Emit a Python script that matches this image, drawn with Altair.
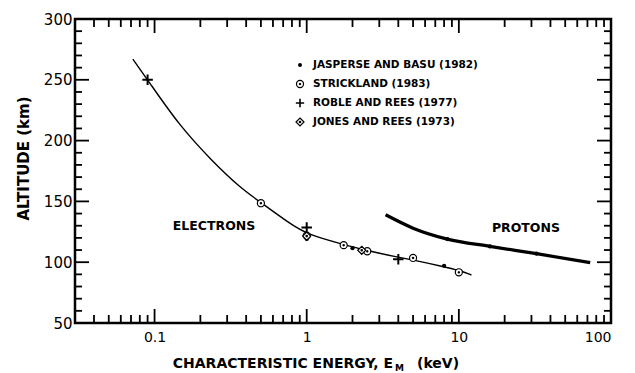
import altair as alt
import pandas as pd

# Peak-deposition altitude versus characteristic energy
electron_energy = [0.072, 0.09, 0.146, 0.24, 0.36, 0.5, 0.77, 1.0, 1.75, 2.5, 4.0, 5.0, 8.0, 10.0, 12.1]
electron_altitude = [267, 250, 212, 183, 162, 149, 132, 123, 114.5, 109.5, 104, 101.8, 96.3, 93.3, 89.5]

proton_energy = [3.3, 5.0, 8.4, 16, 32.4, 73]
proton_altitude = [139, 128, 119, 113, 107, 99.6]

# Published model results
jasperse_energy = [1.0, 2.0, 8.0, 8.4, 16, 32.4]
jasperse_altitude = [119, 111.5, 97, 119, 113, 107]

strickland_energy = [0.5, 1.0, 1.75, 2.5, 5.0, 10.0]
strickland_altitude = [148.5, 121.8, 114, 109, 103.5, 91.7]

roble_energy = [0.09, 1.0, 4.0]
roble_altitude = [250, 128.5, 102.4]

jones_energy = [1.0, 2.3]
jones_altitude = [121.5, 109.8]

# Axis ticks and labels
x_minor = [0.04, 0.05, 0.06, 0.07, 0.08, 0.09,
           0.2, 0.3, 0.4, 0.5, 0.6, 0.7, 0.8, 0.9,
           2, 3, 4, 5, 6, 7, 8, 9,
           20, 30, 40, 50, 60, 70, 80, 90]
x_major = [0.1, 1, 10]
x_labels = [0.1, 1, 10, 100]
y_minor = [60, 70, 80, 90, 110, 120, 130, 140, 160, 170, 180, 190,
           210, 220, 230, 240, 260, 270, 280, 290]
y_major = [100, 150, 200, 250]
y_labels = [50, 100, 150, 200, 250, 300]

legend_labels = ["JASPERSE AND BASU (1982)", "STRICKLAND (1983)",
                 "ROBLE AND REES (1977)", "JONES AND REES (1973)"]

W, H = 536, 304
FONT = "DejaVu Sans"

CIRCLE_DOT = ("M -1 0 A 1 1 0 1 1 1 0 A 1 1 0 1 1 -1 0 Z "
              "M -0.18 0 A 0.18 0.18 0 1 1 0.18 0 A 0.18 0.18 0 1 1 -0.18 0 Z")
DIAMOND_DOT = ("M 0 -1 L 1 0 L 0 1 L -1 0 Z "
               "M -0.18 0 A 0.18 0.18 0 1 1 0.18 0 A 0.18 0.18 0 1 1 -0.18 0 Z")
PLUS = "M -1 0 L 1 0 M 0 -1 L 0 1"

xs = alt.Scale(type="log", domain=[0.03, 100], nice=False)
ys = alt.Scale(domain=[50, 300], nice=False, zero=False)


def frame(e, a):
    return pd.DataFrame({"energy": e, "altitude": a})


X = alt.X("energy:Q", scale=xs)
Y = alt.Y("altitude:Q", scale=ys)

electron_line = alt.Chart(frame(electron_energy, electron_altitude)).mark_line(
    color="black", strokeWidth=1.4, interpolate="basis"
).encode(
    x=alt.X("energy:Q", scale=xs,
            axis=alt.Axis(values=x_labels, format="~g", title=None, grid=False,
                          domain=False, ticks=False, tickSize=0, labelPadding=7,
                          labelFont=FONT, labelFontSize=14, labelColor="black")),
    y=alt.Y("altitude:Q", scale=ys,
            axis=alt.Axis(values=y_labels, title="ALTITUDE (km)", grid=False,
                          domain=False, ticks=False, tickSize=0, labelPadding=3,
                          labelFont=FONT, labelFontSize=15, labelColor="black",
                          titleFont=FONT, titleFontSize=15, titleFontWeight="bold",
                          titleColor="black", titleX=-52, titleY=139,
                          titleBaseline="middle", titleAlign="center", titleAngle=270)),
)

proton_line = alt.Chart(frame(proton_energy, proton_altitude)).mark_line(
    color="black", strokeWidth=3.2, interpolate="monotone"
).encode(x=X, y=Y)

jasperse = alt.Chart(frame(jasperse_energy, jasperse_altitude)).mark_point(
    shape="circle", filled=True, color="black", size=18, opacity=1
).encode(x=X, y=Y)

strickland = alt.Chart(frame(strickland_energy, strickland_altitude)).mark_point(
    shape=CIRCLE_DOT, filled=False, fill="white", fillOpacity=1, stroke="black",
    strokeWidth=1.2, size=50, opacity=1
).encode(x=X, y=Y)

jones = alt.Chart(frame(jones_energy, jones_altitude)).mark_point(
    shape=DIAMOND_DOT, filled=False, fill="white", fillOpacity=1, stroke="black",
    strokeWidth=1.2, size=64, opacity=1
).encode(x=X, y=Y)

roble = alt.Chart(frame(roble_energy, roble_altitude)).mark_point(
    shape=PLUS, filled=False, stroke="black", strokeWidth=2, size=110, opacity=1
).encode(x=X, y=Y)


def xticks(vals, length):
    d = pd.DataFrame({"energy": vals})
    bottom = alt.Chart(d).mark_rule(color="black", strokeWidth=1.8).encode(
        x=X, y=alt.value(H), y2=alt.value(H - length))
    top = alt.Chart(d).mark_rule(color="black", strokeWidth=1.8).encode(
        x=X, y=alt.value(0), y2=alt.value(length))
    return [bottom, top]


def yticks(vals, length):
    d = pd.DataFrame({"altitude": vals})
    left = alt.Chart(d).mark_rule(color="black", strokeWidth=1.8).encode(
        y=Y, x=alt.value(0), x2=alt.value(length))
    right = alt.Chart(d).mark_rule(color="black", strokeWidth=1.8).encode(
        y=Y, x=alt.value(W), x2=alt.value(W - length))
    return [left, right]


tick_layers = xticks(x_minor, 8) + xticks(x_major, 14) + yticks(y_minor, 7) + yticks(y_major, 14)

# Legend block
legend_shapes = ["circle", CIRCLE_DOT, PLUS, DIAMOND_DOT]
legend_sizes = [16, 50, 70, 64]
legend_layers = []
for i, (lab, shp, sz) in enumerate(zip(legend_labels, legend_shapes, legend_sizes)):
    row_y = 46 + 19 * i
    d = pd.DataFrame({"t": [lab]})
    if i == 0:
        sym = alt.Chart(d).mark_point(shape=shp, filled=True, color="black", size=sz, opacity=1)
    else:
        sym = alt.Chart(d).mark_point(shape=shp, filled=False, fill="white", fillOpacity=1,
                                      stroke="black", strokeWidth=1.6 if i == 2 else 1.2,
                                      size=sz, opacity=1)
    legend_layers.append(sym.encode(x=alt.value(225), y=alt.value(row_y)))
    legend_layers.append(
        alt.Chart(d).mark_text(align="left", baseline="middle", font=FONT, fontSize=10.5,
                               fontWeight="bold", color="black").encode(
            x=alt.value(238), y=alt.value(row_y), text="t:N"))

# Curve annotations placed in data coordinates
annot = pd.DataFrame({"energy": [0.246, 27.6], "altitude": [130, 128],
                      "t": ["ELECTRONS", "PROTONS"]})
annot_layer = alt.Chart(annot).mark_text(font=FONT, fontSize=12.5, fontWeight="bold",
                                         color="black", baseline="middle").encode(
    x=X, y=Y, text="t:N")

# Horizontal axis title with subscript
title_main = alt.Chart(pd.DataFrame({"t": ["CHARACTERISTIC ENERGY, E"]})).mark_text(
    align="right", baseline="middle", font=FONT, fontSize=14, fontWeight="bold", color="black"
).encode(x=alt.value(318), y=alt.value(345), text="t:N")
title_sub = alt.Chart(pd.DataFrame({"t": ["M"]})).mark_text(
    align="left", baseline="middle", font=FONT, fontSize=9, fontWeight="bold", color="black"
).encode(x=alt.value(320), y=alt.value(349), text="t:N")
title_unit = alt.Chart(pd.DataFrame({"t": ["(keV)"]})).mark_text(
    align="left", baseline="middle", font=FONT, fontSize=14, fontWeight="bold", color="black"
).encode(x=alt.value(342), y=alt.value(345), text="t:N")

chart = alt.layer(
    electron_line, proton_line, jasperse, strickland, jones, roble,
    *tick_layers, *legend_layers, annot_layer, title_main, title_sub, title_unit
).properties(
    width=W, height=H,
    autosize=alt.AutoSizeParams(type="none"),
    padding={"left": 75, "top": 19, "right": 24, "bottom": 50},
    background="white",
).configure_view(stroke="black", strokeWidth=2.5)

chart.save("out.html", embed_options={"renderer": "svg", "actions": False})
